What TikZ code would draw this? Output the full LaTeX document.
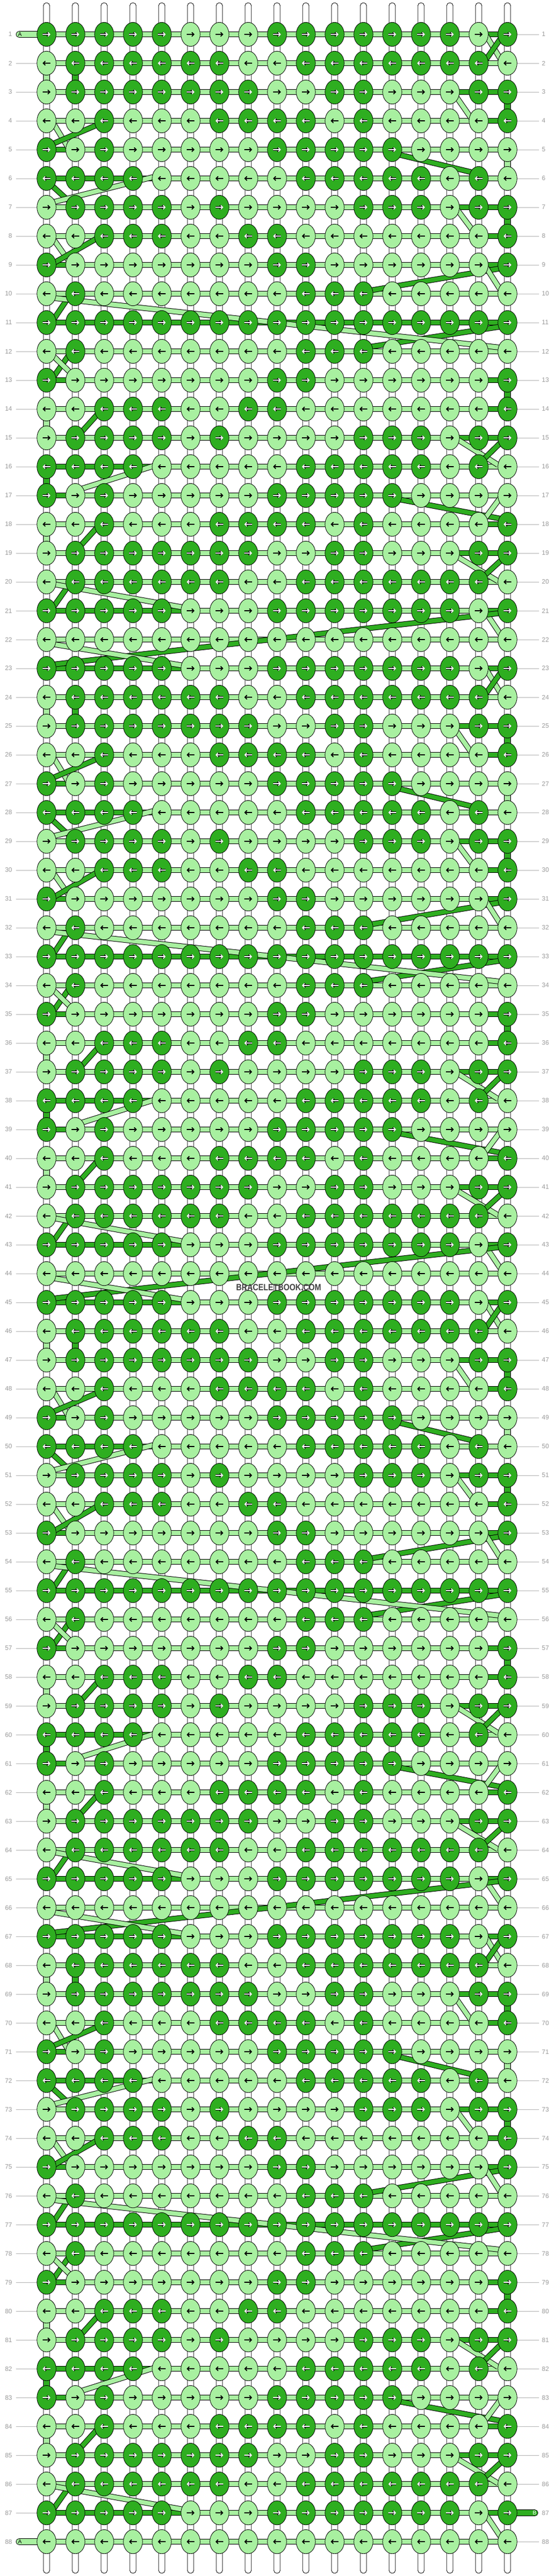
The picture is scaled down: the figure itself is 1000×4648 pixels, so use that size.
\documentclass[tikz,border=0pt]{standalone}
\usepackage{fontspec}
\setmainfont{Liberation Sans}
\usetikzlibrary{arrows.meta}
\definecolor{dk}{HTML}{2EAE20}
\definecolor{lt}{HTML}{A8F0A0}
\definecolor{lblc}{HTML}{9A9A9A}
\definecolor{linec}{HTML}{B4B4B4}
\definecolor{wmc}{HTML}{404040}
% knot colours per period row (1 = dark)
\expandafter\def\csname kn1\endcsname{1,1,1,1,1,0,0,0,1,1,1,1,1,1,1,0,1}
\expandafter\def\csname kn2\endcsname{0,1,1,1,1,1,1,0,0,1,1,1,1,1,1,1,0}
\expandafter\def\csname kn3\endcsname{0,1,1,1,1,1,1,1,0,0,1,1,0,0,0,1,1}
\expandafter\def\csname kn4\endcsname{0,0,1,0,0,0,1,1,1,1,0,1,0,0,0,0,1}
\expandafter\def\csname kn5\endcsname{1,0,1,0,0,0,0,0,1,1,1,1,1,0,0,0,0}
\expandafter\def\csname kn6\endcsname{1,1,1,1,0,0,0,0,0,1,1,1,1,1,0,1,0}
\expandafter\def\csname kn7\endcsname{0,1,1,1,1,0,1,0,0,0,0,1,1,1,0,1,1}
\expandafter\def\csname kn8\endcsname{0,0,1,1,1,0,0,1,1,0,0,0,0,0,0,0,1}
\expandafter\def\csname kn9\endcsname{1,0,0,0,0,0,0,0,1,1,0,0,0,0,0,0,1}
\expandafter\def\csname kn10\endcsname{0,1,0,0,0,0,0,0,0,1,1,1,0,0,0,0,0}
\expandafter\def\csname kn11\endcsname{1,1,1,1,1,1,1,1,1,1,1,1,1,1,1,1,1}
\expandafter\def\csname kn12\endcsname{0,1,0,0,0,0,0,0,0,1,1,1,0,0,0,0,0}
\expandafter\def\csname kn13\endcsname{1,0,0,0,0,0,0,0,1,1,0,0,0,0,0,0,1}
\expandafter\def\csname kn14\endcsname{0,0,1,1,1,0,0,1,1,0,0,0,0,0,0,0,1}
\expandafter\def\csname kn15\endcsname{0,1,1,1,1,0,1,0,0,0,0,1,1,1,0,1,1}
\expandafter\def\csname kn16\endcsname{1,1,1,1,0,0,0,0,0,1,1,1,1,1,0,1,0}
\expandafter\def\csname kn17\endcsname{1,0,1,0,0,0,0,0,1,1,1,1,1,0,0,0,0}
\expandafter\def\csname kn18\endcsname{0,0,1,0,0,0,1,1,1,1,0,1,0,0,0,0,1}
\expandafter\def\csname kn19\endcsname{0,1,1,1,1,1,1,1,0,0,1,1,0,0,0,1,1}
\expandafter\def\csname kn20\endcsname{0,1,1,1,1,1,1,0,0,1,1,1,1,1,1,1,0}
\expandafter\def\csname kn21\endcsname{1,1,1,1,1,0,0,0,1,1,1,1,1,1,1,0,1}
\expandafter\def\csname kn22\endcsname{0,0,0,0,0,0,0,0,0,0,0,0,0,0,0,0,0}
% dark runs of the horizontal working string (from column a to column b)
\expandafter\def\csname bd1\endcsname{1/6,16/17}
\expandafter\def\csname bd2\endcsname{0/0}
\expandafter\def\csname bd3\endcsname{15/17}
\expandafter\def\csname bd4\endcsname{16/17}
\expandafter\def\csname bd5\endcsname{1/2}
\expandafter\def\csname bd6\endcsname{1/5}
\expandafter\def\csname bd7\endcsname{15/17}
\expandafter\def\csname bd8\endcsname{16/17}
\expandafter\def\csname bd9\endcsname{1/2,16/17}
\expandafter\def\csname bd10\endcsname{0/0}
\expandafter\def\csname bd11\endcsname{1/17}
\expandafter\def\csname bd12\endcsname{0/0}
\expandafter\def\csname bd13\endcsname{1/2,16/17}
\expandafter\def\csname bd14\endcsname{16/17}
\expandafter\def\csname bd15\endcsname{15/17}
\expandafter\def\csname bd16\endcsname{1/5}
\expandafter\def\csname bd17\endcsname{1/2}
\expandafter\def\csname bd18\endcsname{16/17}
\expandafter\def\csname bd19\endcsname{15/17}
\expandafter\def\csname bd20\endcsname{0/0}
\expandafter\def\csname bd21\endcsname{1/6,16/17}
\expandafter\def\csname bd22\endcsname{0/0}
\newcommand\mydiag[5]{%
  \draw[line width=10pt, shorten <=-7pt, shorten >=-7pt] (#2,#3) -- (#4,#5);
  \draw[#1, line width=8pt, shorten <=-7pt, shorten >=-7pt] (#2,#3) -- (#4,#5);}
\tikzset{
  knotd/.style={fill=dk, draw=black, line width=0.8pt},
  knotl/.style={fill=lt, draw=black, line width=0.8pt},
  arrb/.style={line width=1.7pt, -{Straight Barb[length=3.6pt,width=7.5pt]}},
  arrw/.style={white, line width=1.5pt, -{Straight Barb[length=3.6pt,width=7.5pt]}},
  arro/.style={black, line width=3.1pt, -{Straight Barb[length=3.6pt,width=7.5pt]}},
  lbl/.style={text=lblc, inner sep=0pt, font=\fontsize{11.5}{12}\selectfont},
}
\begin{document}
\begin{tikzpicture}[x=1pt,y=-1pt]
\useasboundingbox (0,0) rectangle (1000,4648);
\fill[white] (0,0) rectangle (1000,4648);
% row labels and guide lines
\foreach \r in {1,...,88}{
  \pgfmathsetmacro\y{62+52*(\r-1)}
  \node[lbl, anchor=east] (ll\r) at (22,\y) {\r};
  \node[lbl, anchor=west] (lr\r) at (978,\y) {\r};
  \ifnum\r=1 \else\ifnum\r=88 \else \draw[linec, line width=0.9pt] (29,\y) -- (70,\y);\fi\fi
  \ifnum\r=87 \else \draw[linec, line width=0.9pt] (930,\y) -- (973,\y);\fi
}
% base strings
\foreach \c in {1,...,17}{
  \pgfmathsetmacro\x{84+52*(\c-1)}
  \filldraw[fill=white, line width=0.8pt, rounded corners=5.5pt] (\x-5.75,5) rectangle (\x+5.75,4643);
}
% horizontal working string
\foreach \P in {0,1,2,3}{
  \foreach \p in {1,...,22}{
    \pgfmathsetmacro\y{62+52*(\p-1)+1144*\P}
    \draw[line width=9.5pt] (84,\y) -- (916,\y);
    \draw[lt, line width=7.5pt] (84,\y) -- (916,\y);
    \ifnum\P=0 \ifnum\p=1 \def\runs{16/17}\else\edef\runs{\csname bd\p\endcsname}\fi\else\edef\runs{\csname bd\p\endcsname}\fi
    \foreach \a/\b in \runs {\ifnum\a>0 \draw[dk, line width=7.5pt] ({84+52*(\a-1)},\y) -- ({84+52*(\b-1)},\y);\fi}
  }
}
% coloured vertical links at the edges
\foreach \P in {0,1,2,3}{
  \foreach \p/\c/\col in {2/1/lt,2/2/dk,3/17/dk,5/17/lt,7/17/dk,13/17/dk,14/1/lt,16/1/dk,18/1/lt}{
    \pgfmathsetmacro\y{62+52*(\p-1)+1144*\P}
    \pgfmathsetmacro\x{84+52*(\c-1)}
    \filldraw[fill=\col, line width=0.8pt] (\x-5.75,\y+15) rectangle (\x+5.75,\y+37);
  }
}
% diagonal string changes
\foreach \P in {0,1,2,3}{
  \pgfmathsetmacro\Y{1144*\P}
  \begin{scope}[shift={(0,\Y)}]
    \mydiag{lt}{880.1}{68.3}{902.4}{105}
    \mydiag{dk}{905.6}{66.7}{880.1}{103.3}
    \mydiag{lt}{822.7}{173.3}{848.2}{210}
    \mydiag{lt}{98.9}{226.7}{121.2}{263.3}
    \mydiag{dk}{172.2}{226.7}{102}{256.7}
    \mydiag{dk}{723.9}{280}{848.2}{310}
    \mydiag{dk}{95.7}{336.7}{121.2}{360}
    \mydiag{lt}{274.2}{320}{102}{363.3}
    \mydiag{lt}{829}{383.3}{851.4}{413.3}
    \mydiag{lt}{98.9}{435}{121.2}{466.7}
    \mydiag{dk}{172.2}{431.7}{102}{471.7}
    \mydiag{dk}{899.2}{485}{672.8}{523.3}
    \mydiag{lt}{880.1}{486.7}{902.4}{521.7}
    \mydiag{dk}{121.2}{540}{98.9}{573.3}
    \mydiag{dk}{899.2}{590}{672.8}{625}
    \mydiag{lt}{102}{538.3}{899.2}{626.7}
    \mydiag{dk}{121.2}{645}{98.9}{676.7}
    \mydiag{lt}{98.9}{645}{121.2}{666.7}
    \mydiag{dk}{172.2}{751.7}{146.7}{780}
    \mydiag{lt}{829.1}{795}{892.9}{835}
    \mydiag{dk}{905.6}{796.7}{880.1}{821.7}
    \mydiag{lt}{274.2}{841.7}{153.1}{880}
    \mydiag{dk}{723.9}{901.7}{899.2}{935}
    \mydiag{lt}{899.2}{903.3}{876.9}{933.3}
    \mydiag{dk}{172.2}{955}{146.7}{983.3}
    \mydiag{lt}{829.1}{1006.7}{892.9}{1045}
    \mydiag{dk}{905.6}{1010}{880.1}{1033.3}
    \mydiag{dk}{121.2}{1060}{98.9}{1091.7}
    \mydiag{lt}{102}{1055}{325.3}{1095}
    \mydiag{lt}{880.1}{1110}{902.4}{1143.3}
    \ifnum\P<3
      \mydiag{dk}{899.2}{1106.7}{102}{1198.3}
      \mydiag{lt}{102}{1163.3}{325.3}{1200}
    \fi
  \end{scope}
}
% start and end tabs
\draw[fill=lt, line width=0.8pt, rounded corners=5.5pt] (29,56.5) rectangle (90,67.5);
\node[inner sep=0pt, font=\fontsize{10}{10}\selectfont] (tabA1) at (36,62) {A};
\draw[fill=lt, line width=0.8pt, rounded corners=5.5pt] (29,4580.5) rectangle (90,4591.5);
\node[inner sep=0pt, font=\fontsize{10}{10}\selectfont] (tabA2) at (36,4586) {A};
\draw[fill=dk, line width=0.8pt, rounded corners=5.5pt] (910,4528.5) rectangle (971,4539.5);
\node[inner sep=0pt, text=white, font=\fontsize{10}{10}\selectfont] (tabB) at (965,4534) {B};
% knots
\foreach \P in {0,1,2,3}{
  \foreach \p in {1,...,22}{
    \pgfmathtruncatemacro\r{22*\P+\p}
    \pgfmathsetmacro\y{62+52*(\r-1)}
    \ifodd\p \def\dir{1}\else\def\dir{-1}\fi
    \edef\data{\csname kn\p\endcsname}
    \foreach \b [count=\c] in \data {
      \pgfmathsetmacro\x{84+52*(\c-1)}
      \pgfmathsetmacro\xa{\x-7*\dir}
      \pgfmathsetmacro\xb{\x+7*\dir}
      \coordinate (k-\r-\c) at (\x,\y);
      \ifnum\b=1
        \path[knotd] (k-\r-\c) ellipse [x radius=17.25pt, y radius=21.7pt];
        \draw[arro] (\xa,\y) -- (\xb,\y);
        \draw[arrw] (\xa,\y) -- (\xb,\y);
      \else
        \path[knotl] (k-\r-\c) ellipse [x radius=17.25pt, y radius=21.7pt];
        \draw[arrb] (\xa,\y) -- (\xb,\y);
      \fi
    }
  }
}
\node[text=wmc, inner sep=0pt, font=\bfseries\fontsize{16.3}{16}\selectfont] (wm) at (503,2323) {\scalebox{0.85}[1]{BRACELETBOOK.COM}};
\end{tikzpicture}
\end{document}
